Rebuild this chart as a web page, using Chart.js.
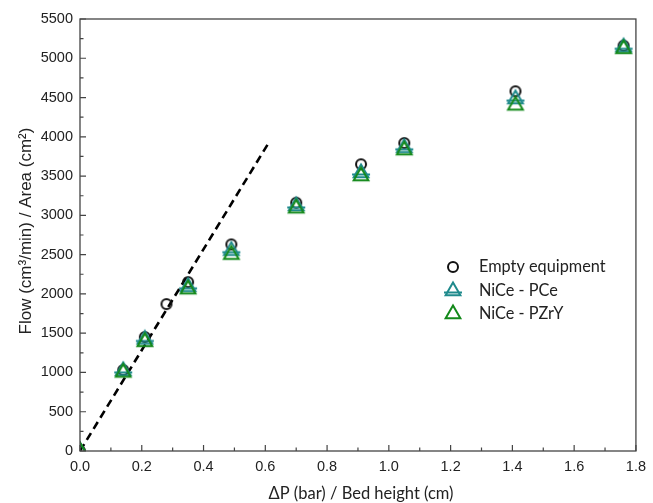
<!DOCTYPE html>
<html><head><meta charset="utf-8">
<script src="https://cdn.jsdelivr.net/npm/chart.js@4"></script>
<style>html,body{margin:0;padding:0;background:#fff}#wrap{width:653px;height:503px;position:relative}</style>
</head><body><div id="wrap"><canvas id="c" width="653" height="503"></canvas></div>
<script>
// ---- data ----
const emptyX = [0, 0.14, 0.21, 0.28, 0.35, 0.49, 0.70, 0.91, 1.05, 1.41, 1.76];
const emptyFlow = [0, 1030, 1450, 1870, 2150, 2630, 3160, 3650, 3920, 4580, 5160];
const pceX = [0, 0.14, 0.21, 0.35, 0.49, 0.70, 0.91, 1.05, 1.41, 1.76];
const pceFlow = [0, 1020, 1420, 2090, 2550, 3120, 3540, 3860, 4480, 5140];
const pzryX = [0, 0.14, 0.21, 0.35, 0.49, 0.70, 0.91, 1.05, 1.41, 1.76];
const pzryFlow = [0, 1000, 1390, 2060, 2500, 3090, 3500, 3830, 4400, 5120];
const fitX = [0, 0.615];
const fitFlow = [0, 3950];
const seriesNames = ['Empty equipment', 'NiCe - PCe', 'NiCe - PZrY'];
const xTitle = 'ΔP (bar) / Bed height (cm)';
const yTitle = 'Flow (cm³/min) / Area (cm²)';

const pts = (xs, ys) => xs.map((x, i) => ({x, y: ys[i]}));

const TEAL = '#1f8a8c', GREEN = '#13891a';
function marker(kind, color) {
  const c = document.createElement('canvas');
  c.width = 24; c.height = 24;
  const g = c.getContext('2d');
  g.strokeStyle = color; g.lineWidth = 2;
  const cx = 12, cy = 12;
  if (kind === 'circle') {
    g.beginPath(); g.arc(cx, cy, 5, 0, Math.PI * 2); g.stroke();
  } else {
    const r = 8.5;
    g.beginPath();
    g.moveTo(cx, cy - r);
    g.lineTo(cx + r * Math.sin(2 * Math.PI / 3), cy + r / 2);
    g.lineTo(cx - r * Math.sin(2 * Math.PI / 3), cy + r / 2);
    g.closePath(); g.stroke();
    if (kind === 'tribar') {
      g.beginPath();
      g.moveTo(cx - 9, cy + 1.5); g.lineTo(cx + 9, cy + 1.5);
      g.stroke();
    }
  }
  return c;
}
const mCircle = marker('circle', '#111');
const mPce = marker('tribar', TEAL);
const mPzry = marker('tri', GREEN);

const decor = {
  id: 'decor',
  afterDraw(chart) {
    const ctx = chart.ctx, a = chart.chartArea;
    const xs = chart.scales.x, ys = chart.scales.y;
    ctx.save();
    ctx.strokeStyle = '#444'; ctx.lineWidth = 1.3;
    ctx.strokeRect(a.left, a.top, a.right - a.left, a.bottom - a.top);
    ctx.lineWidth = 1.2;
    ctx.beginPath();
    for (let v = 0; v <= 18; v++) {
      const px = xs.getPixelForValue(v / 10);
      const len = v % 2 === 0 ? 6 : 3.5;
      ctx.moveTo(px, a.bottom); ctx.lineTo(px, a.bottom - len);
    }
    for (let v = 0; v <= 22; v++) {
      const py = ys.getPixelForValue(v * 250);
      const len = v % 2 === 0 ? 6 : 3.5;
      ctx.moveTo(a.left, py); ctx.lineTo(a.left + len, py);
    }
    ctx.stroke();
    // axis titles
    ctx.fillStyle = '#222';
    ctx.font = '17px "Liberation Sans", Arial, sans-serif';
    ctx.textAlign = 'center'; ctx.textBaseline = 'middle';
    ctx.save();
    ctx.translate(26, 231); ctx.rotate(-Math.PI / 2);
    ctx.fillText(yTitle, 0, 0);
    ctx.restore();
    ctx.font = '16.5px Lato, "Open Sans", sans-serif';
    ctx.fillText(xTitle, 361, 494);
    // legend
    const marks = [mCircle, mPce, mPzry];
    const rows = [267, 291, 314];
    ctx.textAlign = 'left';
    ctx.font = '16.3px Lato, "Open Sans", sans-serif';
    rows.forEach((ry, i) => {
      ctx.drawImage(marks[i], 453 - 12, ry - 12);
      ctx.fillText(seriesNames[i], 479, ry);
    });
    ctx.restore();
  }
};

new Chart(document.getElementById('c'), {
  type: 'scatter',
  data: {
    datasets: [
      {label: 'fit', type: 'line', data: pts(fitX, fitFlow), borderColor: '#000', borderWidth: 2.6,
       borderDash: [8, 5], pointRadius: 0, fill: false, order: 3, clip: 0},
      {label: seriesNames[0], data: pts(emptyX, emptyFlow), pointStyle: mCircle, order: 2, clip: 0},
      {label: seriesNames[1], data: pts(pceX, pceFlow), pointStyle: mPce, order: 1, clip: 0},
      {label: seriesNames[2], data: pts(pzryX, pzryFlow), pointStyle: mPzry, order: 0, clip: 0}
    ]
  },
  options: {
    responsive: false, animation: false,
    layout: {padding: {top: 19, right: 12, left: 0, bottom: 0}},
    plugins: {legend: {display: false}, tooltip: {enabled: false}},
    scales: {
      x: {
        type: 'linear', min: 0, max: 1.8,
        afterFit(s) { s.height = 52; },
        grid: {display: false, drawTicks: false},
        border: {display: false},
        ticks: {stepSize: 0.2, padding: 7, color: '#222',
          font: {family: '"Liberation Sans", Arial, sans-serif', size: 14.5},
          callback: v => Number(v).toFixed(1)}
      },
      y: {
        type: 'linear', min: 0, max: 5500,
        afterFit(s) { s.width = 80; },
        grid: {display: false, drawTicks: false},
        border: {display: false},
        ticks: {stepSize: 500, padding: 7, color: '#222',
          font: {family: '"Liberation Sans", Arial, sans-serif', size: 14.5},
          callback: v => String(v)}
      }
    }
  },
  plugins: [decor]
});
</script></body></html>
